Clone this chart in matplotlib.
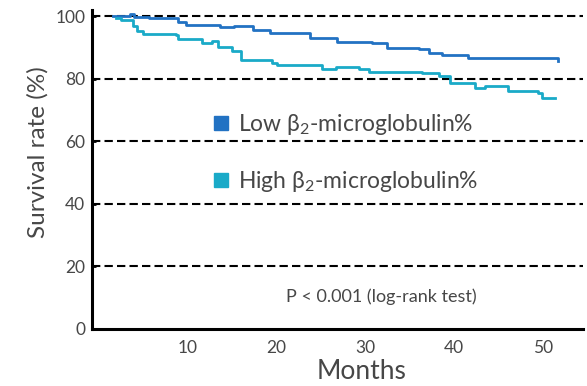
import matplotlib
matplotlib.use('Agg')
import matplotlib.pyplot as plt
from matplotlib.lines import Line2D

# Kaplan-Meier style curves (months, survival %)
low_months = [1.7, 3.6, 4.0, 5.7, 8.7, 8.9, 9.8, 13.7, 15.2, 17.4, 19.3, 21.5, 23.8,
              26.8, 30.8, 32.0, 32.5, 36.1, 37.2, 38.7, 41.6, 49.8, 51.7]
low_surv = [100.0, 100.8, 99.8, 99.3, 99.3, 98.2, 97.1, 96.6, 96.8, 95.5, 94.5, 94.8, 93.2,
            91.8, 91.3, 91.3, 89.7, 89.6, 88.1, 87.5, 86.8, 86.8, 85.7]

high_months = [2.0, 2.6, 3.9, 4.4, 5.0, 8.7, 8.9, 11.7, 12.8, 13.4, 15.0, 16.0, 19.5,
               20.1, 25.2, 26.7, 29.3, 30.4, 36.4, 38.3, 39.6, 42.4, 43.5, 46.1, 49.5,
               49.9, 51.4]
high_surv = [99.3, 98.8, 96.8, 95.3, 94.2, 94.0, 92.8, 91.3, 92.0, 90.2, 89.0, 86.0, 84.9,
             84.3, 83.0, 83.8, 83.0, 82.2, 82.0, 80.8, 78.5, 77.2, 77.6, 76.1, 75.6,
             74.0, 74.0]

y_ticks = [0, 20, 40, 60, 80, 100]
x_ticks = [10, 20, 30, 40, 50]
grid_levels = [20, 40, 60, 80, 100]

low_color = '#2272c3'
high_color = '#1aaac8'
text_color = '#474747'

plt.rcParams['font.family'] = ['Lato', 'DejaVu Sans']
plt.rcParams['mathtext.fontset'] = 'custom'
plt.rcParams['mathtext.rm'] = 'Lato'
plt.rcParams['mathtext.it'] = 'Lato'

fig = plt.figure(figsize=(5.87, 3.86), dpi=100)
ax = fig.add_axes([0.157, 0.148, 0.836, 0.826])

# dashed reference lines
for g in grid_levels:
    ax.axhline(g, color='black', lw=1.5, linestyle=(0, (4, 2)), zorder=1)

ax.step(low_months, low_surv, where='post', color=low_color, lw=2, zorder=3)
ax.step(high_months, high_surv, where='post', color=high_color, lw=2, zorder=3)

ax.set_xlim(-0.7, 54.5)
ax.set_ylim(0, 102)
ax.set_xticks(x_ticks)
ax.set_yticks(y_ticks)

for s in ['top', 'right']:
    ax.spines[s].set_visible(False)
for s in ['left', 'bottom']:
    ax.spines[s].set_linewidth(2.2)

ax.tick_params(axis='x', length=0, pad=8, labelsize=12.5, labelcolor=text_color)
ax.tick_params(axis='y', direction='in', length=3, width=2, pad=5,
               labelsize=12.5, labelcolor=text_color)

ax.set_xlabel('Months', fontsize=19, color=text_color, labelpad=2, x=0.55)
ax.set_ylabel('Survival rate (%)', fontsize=17.5, color=text_color, labelpad=5, y=0.555)

handles = [
    Line2D([], [], marker='s', linestyle='none', color=low_color, markersize=10),
    Line2D([], [], marker='s', linestyle='none', color=high_color, markersize=10),
]
labels = ['Low β$_2$-microglobulin%', 'High β$_2$-microglobulin%']
leg = ax.legend(handles, labels, loc='upper left', bbox_to_anchor=(0.22, 0.71),
                frameon=False, fontsize=16.5, labelspacing=1.4, handletextpad=0.25,
                handlelength=1.0, borderaxespad=0)
for t in leg.get_texts():
    t.set_color(text_color)

ax.text(0.59, 0.1, 'P < 0.001 (log-rank test)', transform=ax.transAxes,
        ha='center', va='center', fontsize=13, color=text_color)

fig.savefig('out.png', dpi=100)
